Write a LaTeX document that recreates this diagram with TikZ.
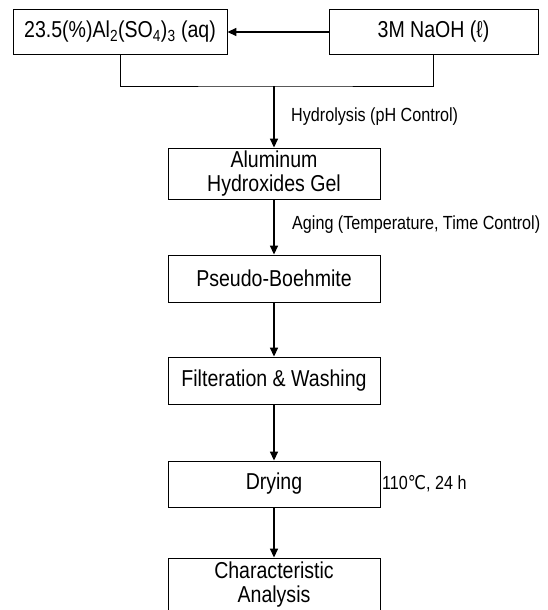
\documentclass[tikz,border=0pt]{standalone}
\usepackage{fontspec}
\setmainfont{Liberation Sans}[FakeStretch=0.85]
\newfontfamily\symfont{DejaVu Sans}[FakeStretch=0.85]
\usetikzlibrary{arrows.meta}
\tikzset{
  box/.style={draw, line width=0.9pt, minimum width=212pt, align=center, inner sep=0pt, font=\fontsize{23}{24}\selectfont},
  topbox/.style={box, minimum height=45pt},
  flowarrow/.style={line width=1.6pt, -{Triangle[width=8pt,length=9pt]}},
  conn/.style={line width=0.9pt},
  lbl/.style={anchor=west, inner sep=0pt, font=\fontsize{19}{22}\selectfont}
}
\begin{document}
\begin{tikzpicture}[x=1pt,y=-1pt]
\useasboundingbox (0,0) rectangle (548,610);
\clip (0,0) rectangle (548,610);
\fill[white] (0,0) rectangle (548,610);
% top boxes
\node[topbox, minimum width=214pt] (al) at (120,32) {23.5(\%)Al\textsubscript{2}(SO\textsubscript{4})\textsubscript{3} (aq)};
\node[topbox, minimum width=209pt] (na) at (433.5,32) {3M NaOH (ℓ)};
\coordinate (j) at (274,86);
% flow boxes
\node[box, minimum height=51pt] (gel) at (274,173.5) {Aluminum\\Hydroxides Gel};
\node[box, minimum height=47pt] (pb) at (274,278.5) {Pseudo-Boehmite};
\node[box, minimum height=47pt] (fw) at (274,380.5) {Filteration \& Washing};
\node[box, minimum height=46pt] (dr) at (274,484) {Drying};
\node[box, minimum height=54pt] (ca) at (274,585) {Characteristic\\Analysis};
% labels
\node[lbl] (l1) at (291,117) {Hydrolysis (pH Control)};
\node[lbl] (l2) at (292,225) {Aging (Temperature, Time Control)};
\node[lbl] (l3) at (382,484) {110{\symfont ℃}, 24 h};
% connectors
\draw[flowarrow] (na.west) -- (al.east);
\draw[conn] (al.south) |- (j) -| (na.south);
\draw[flowarrow] (j) -- (gel.north);
\draw[flowarrow] (gel.south) -- (pb.north);
\draw[flowarrow] (pb.south) -- (fw.north);
\draw[flowarrow] (fw.south) -- (dr.north);
\draw[flowarrow] (dr.south) -- (ca.north);
\end{tikzpicture}
\end{document}
